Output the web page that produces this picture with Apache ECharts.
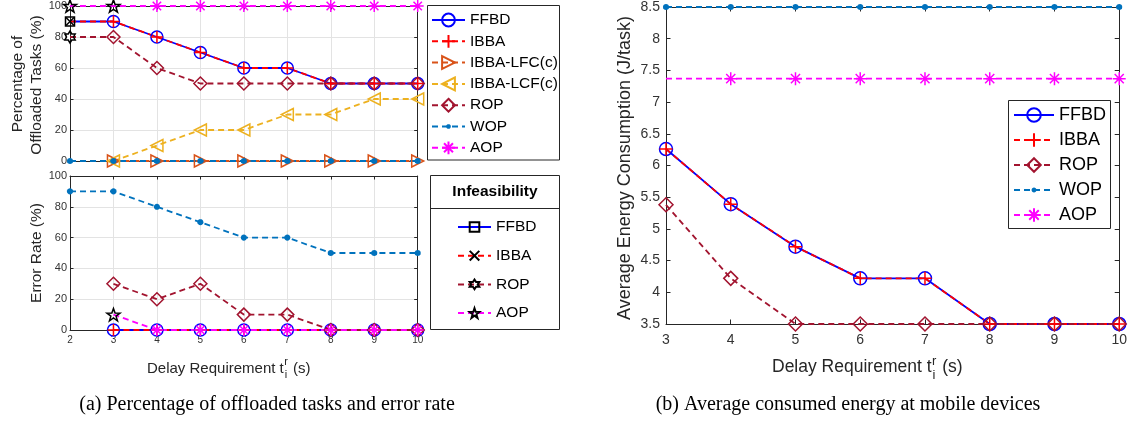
<!DOCTYPE html>
<html><head><meta charset="utf-8">
<script src="https://cdn.jsdelivr.net/npm/echarts@6/dist/echarts.min.js"></script>
<style>html,body{margin:0;padding:0;background:#fff}#c{width:1130px;height:427px}</style>
</head><body><div id="c"></div>
<script>
// ---------- data ----------
const xLeft = [2, 3, 4, 5, 6, 7, 8, 9, 10];
const xRight = [3, 4, 5, 6, 7, 8, 9, 10];
const pctTicks = [0, 100, 20];        // min, max, interval
const energyTicks = [3.5, 8.5, 0.5];  // min, max, interval

// (a) top: percentage of offloaded tasks (%)
const offFFBD = [90, 90, 80, 70, 60, 60, 50, 50, 50];
const offIBBA = [90, 90, 80, 70, 60, 60, 50, 50, 50];
const offLFC  = [null, 0, 0, 0, 0, 0, 0, 0, 0];
const offLCF  = [null, 0, 10, 20, 20, 30, 30, 40, 40];
const offROP  = [80, 80, 60, 50, 50, 50, 50, 50, 50];
const offWOP  = [0, 0, 0, 0, 0, 0, 0, 0, 0];
const offAOP  = [100, 100, 100, 100, 100, 100, 100, 100, 100];

// (a) bottom: error rate (%)
const errFFBD = [null, 0, 0, 0, 0, 0, 0, 0, 0];
const errIBBA = [null, 0, 0, 0, 0, 0, 0, 0, 0];
const errROP  = [null, 30, 20, 30, 10, 10, 0, 0, 0];
const errWOP  = [90, 90, 80, 70, 60, 60, 50, 50, 50];
const errAOP  = [null, 10, 0, 0, 0, 0, 0, 0, 0];

// infeasible delay requirements
const infFFBD = [2];
const infIBBA = [2];
const infROP  = [2];
const infAOP  = [2, 3];

// (b) average energy consumption (J/task)
const enFFBD = [6.26, 5.39, 4.72, 4.22, 4.22, 3.5, 3.5, 3.5];
const enIBBA = [6.26, 5.39, 4.72, 4.22, 4.22, 3.5, 3.5, 3.5];
const enROP  = [5.38, 4.22, 3.5, 3.5, 3.5, 3.5, 3.5, 3.5];
const enWOP  = [8.5, 8.5, 8.5, 8.5, 8.5, 8.5, 8.5, 8.5];
const enAOP  = [7.37, 7.37, 7.37, 7.37, 7.37, 7.37, 7.37, 7.37];

const namesTop = ['FFBD', 'IBBA', 'IBBA-LFC(c)', 'IBBA-LCF(c)', 'ROP', 'WOP', 'AOP'];
const namesInf = ['FFBD', 'IBBA', 'ROP', 'AOP'];
const namesRight = ['FFBD', 'IBBA', 'ROP', 'WOP', 'AOP'];

// ---------- styles ----------
const FONT = '"Liberation Sans", Arial, Helvetica, sans-serif';
const SERIF = '"Liberation Serif", "Times New Roman", serif';
const AX = '#262626';
const COL = {FFBD:'#0000FF', IBBA:'#FF0000', LFC:'#D95319', LCF:'#EDB120', ROP:'#A2142F', WOP:'#0072BD', AOP:'#FF00FF'};

function starPath(n, r1, r2) {
  let s = 'path://';
  for (let k = 0; k < 2 * n; k++) {
    const r = k % 2 === 0 ? r1 : r2;
    const a = -Math.PI / 2 + k * Math.PI / n;
    s += (k === 0 ? 'M' : 'L') + (r * Math.cos(a)).toFixed(3) + ',' + (r * Math.sin(a)).toFixed(3);
  }
  return s + 'Z';
}
function dotPath(r) {
  // small filled dot inside a 2x2 frame (so the legend dot stays small)
  let s = 'path://M-1,-1M1,1';
  for (let k = 0; k < 16; k++) {
    const a = k * Math.PI / 8;
    s += (k === 0 ? 'M' : 'L') + (r * Math.cos(a)).toFixed(3) + ',' + (r * Math.sin(a)).toFixed(3);
  }
  return s + 'Z';
}
const SYM = {
  plus: 'path://M0,-1L0,1M-1,0L1,0',
  cross: 'path://M-1,-1L1,1M-1,1L1,-1',
  triR: 'path://M-1,-1L1,0L-1,1Z',
  triL: 'path://M1,-1L-1,0L1,1Z',
  aster: 'path://M0,-1L0,1M-1,0L1,0M-0.7,-0.7L0.7,0.7M-0.7,0.7L0.7,-0.7',
  hexa: starPath(6, 1, 0.58),
  penta: starPath(5, 1, 0.4),
  dot: dotPath(0.36)
};

function pairs(xs, ys, infX) {
  const out = [];
  xs.forEach((x, i) => {
    const y = ys[i];
    if (y == null) return;
    if (infX && infX.includes(x)) out.push({value: [x, y], symbol: 'none'});
    else out.push([x, y]);
  });
  return out;
}
function infPairs(xs, ys, infX) {
  const out = [];
  xs.forEach((x, i) => { if (infX.includes(x) && ys[i] != null) out.push([x, ys[i]]); });
  return out;
}
function ser(name, g, data, color, dashed, symbol, size, markColor, filled) {
  return {
    type: 'line', name, xAxisIndex: g * 2, yAxisIndex: g * 2, data,
    symbol, symbolSize: size, symbolKeepAspect: true, showAllSymbol: true,
    lineStyle: {color, width: 1.8, type: dashed ? [6, 4] : 'solid'},
    itemStyle: filled ? {color: color, borderWidth: 0}
                      : {color: 'rgba(0,0,0,0)', borderColor: markColor || color, borderWidth: 1.5},
    clip: false, animation: false, silent: true, emphasis: {disabled: true}
  };
}

const series = [];
// top panel (grid 0)
series.push(ser('FFBD', 0, pairs(xLeft, offFFBD, infFFBD), COL.FFBD, false, 'circle', 12));
series.push(ser('IBBA', 0, pairs(xLeft, offIBBA, infIBBA), COL.IBBA, true, SYM.plus, 12));
series.push(ser('IBBA-LFC(c)', 0, pairs(xLeft, offLFC), COL.LFC, true, SYM.triR, 12));
series.push(ser('IBBA-LCF(c)', 0, pairs(xLeft, offLCF), COL.LCF, true, SYM.triL, 12));
series.push(ser('ROP', 0, pairs(xLeft, offROP, infROP), COL.ROP, true, 'diamond', 13));
series.push(ser('WOP', 0, pairs(xLeft, offWOP), COL.WOP, true, SYM.dot, 17, null, true));
series.push(ser('AOP', 0, pairs(xLeft, offAOP, infAOP), COL.AOP, true, SYM.aster, 12));
// bottom panel (grid 1)
series.push(ser('FFBD', 1, pairs(xLeft, errFFBD, infFFBD), COL.FFBD, false, 'circle', 12));
series.push(ser('IBBA', 1, pairs(xLeft, errIBBA, infIBBA), COL.IBBA, true, SYM.plus, 12));
series.push(ser('ROP', 1, pairs(xLeft, errROP, infROP), COL.ROP, true, 'diamond', 13));
series.push(ser('WOP', 1, pairs(xLeft, errWOP), COL.WOP, true, SYM.dot, 17, null, true));
series.push(ser('AOP', 1, pairs(xLeft, errAOP, infAOP), COL.AOP, true, SYM.aster, 12));
// infeasibility markers (both left panels)
[[0, offFFBD, offIBBA, offROP, offAOP], [1, errFFBD, errIBBA, errROP, errAOP]].forEach(([g, f, ib, r, a]) => {
  series.push(ser('FFBD ', g, infPairs(xLeft, f, infFFBD), COL.FFBD, false, 'rect', 9, '#000'));
  series.push(ser('IBBA ', g, infPairs(xLeft, ib, infIBBA), COL.IBBA, true, SYM.cross, 8, '#000'));
  series.push(ser('ROP ', g, infPairs(xLeft, r, infROP), COL.ROP, true, SYM.hexa, 12, '#000'));
  series.push(ser('AOP ', g, infPairs(xLeft, a, infAOP), COL.AOP, true, SYM.penta, 13, '#000'));
});
// right panel (grid 2)
series.push(ser('FFBD', 2, pairs(xRight, enFFBD), COL.FFBD, false, 'circle', 13));
series.push(ser('IBBA', 2, pairs(xRight, enIBBA), COL.IBBA, true, SYM.plus, 13));
series.push(ser('ROP', 2, pairs(xRight, enROP), COL.ROP, true, 'diamond', 14));
series.push(ser('WOP', 2, pairs(xRight, enWOP), COL.WOP, true, SYM.dot, 17, null, true));
series.push(ser('AOP', 2, pairs(xRight, enAOP, infAOP), COL.AOP, true, SYM.aster, 13));

// ---------- axes ----------
const grids = [
  {left: 70, top: 6, width: 347.7, height: 155},
  {left: 70, top: 176, width: 347.7, height: 154},
  {left: 666, top: 4, width: 455, height: 320}
];
function xAx(g, pos, min, max, showLabel, split, fs, margin, tl) {
  return {
    type: 'value', gridIndex: g, position: pos, min, max, interval: 1,
    axisLine: {show: true, onZero: false, lineStyle: {color: AX, width: 1}},
    axisTick: {show: true, inside: true, length: tl, lineStyle: {color: AX}},
    axisLabel: {show: showLabel, color: '#333', fontSize: fs, fontFamily: FONT, margin},
    splitLine: {show: split, lineStyle: {color: '#e3e3e3', width: 1}}
  };
}
function yAx(g, pos, mm, showLabel, split, fs, margin, tl) {
  return {
    type: 'value', gridIndex: g, position: pos, min: mm[0], max: mm[1], interval: mm[2],
    axisLine: {show: true, onZero: false, lineStyle: {color: AX, width: 1}},
    axisTick: {show: true, inside: true, length: tl, lineStyle: {color: AX}},
    axisLabel: {show: showLabel, color: '#333', fontSize: fs, fontFamily: FONT, margin},
    splitLine: {show: split, lineStyle: {color: '#e3e3e3', width: 1}}
  };
}
const xAxis = [
  xAx(0, 'bottom', xLeft[0], xLeft[xLeft.length - 1], false, true, 10, 5, 3.5),
  xAx(0, 'top', xLeft[0], xLeft[xLeft.length - 1], false, false, 10, 5, 3.5),
  xAx(1, 'bottom', xLeft[0], xLeft[xLeft.length - 1], true, true, 10, 5, 3.5),
  xAx(1, 'top', xLeft[0], xLeft[xLeft.length - 1], false, false, 10, 5, 3.5),
  xAx(2, 'bottom', xRight[0], xRight[xRight.length - 1], true, false, 14, 9, 4.5),
  xAx(2, 'top', xRight[0], xRight[xRight.length - 1], false, false, 14, 9, 4.5)
];
const yAxis = [
  yAx(0, 'left', pctTicks, true, true, 11, 3, 3.5),
  yAx(0, 'right', pctTicks, false, false, 11, 3, 3.5),
  yAx(1, 'left', pctTicks, true, true, 11, 3, 3.5),
  yAx(1, 'right', pctTicks, false, false, 11, 3, 3.5),
  yAx(2, 'left', energyTicks, true, false, 14, 6, 4.5),
  yAx(2, 'right', energyTicks, false, false, 14, 6, 4.5)
];

// ---------- legends ----------
const legend = [
  {orient: 'vertical', left: 431, top: 12, itemWidth: 33, itemHeight: 16, itemGap: 5.3, padding: 0,
   selectedMode: false, data: namesTop,
   textStyle: {fontSize: 15.5, fontFamily: FONT, color: '#000', lineHeight: 16}},
  {orient: 'vertical', left: 457, top: 219, itemWidth: 33, itemHeight: 12, itemGap: 12.7, padding: 0,
   selectedMode: false, data: namesInf.map(n => n + ' '), formatter: n => n.trim(),
   textStyle: {fontSize: 15.5, fontFamily: FONT, color: '#000', lineHeight: 16}},
  {orient: 'vertical', left: 1013, top: 106, itemWidth: 40, itemHeight: 17, itemGap: 7, padding: 0,
   selectedMode: false, data: namesRight,
   textStyle: {fontSize: 18, fontFamily: FONT, color: '#000', lineHeight: 18}}
];

// ---------- texts ----------
const mctx = document.createElement('canvas').getContext('2d');
function tw(text, size) { mctx.font = size + 'px ' + FONT; return mctx.measureText(text).width; }
function txt(text, x, y, size, opts) {
  return Object.assign({type: 'text', x, y, silent: true,
    style: Object.assign({text, fontSize: size, fontFamily: FONT, fill: AX, align: 'left', verticalAlign: 'middle'}, opts || {})});
}
function delayLabel(left, midY, size, subSize, supY, subY) {
  const a = 'Delay Requirement t';
  const wa = tw(a, size);
  const wr = tw('r', subSize), wi = tw('i', subSize);
  return [
    txt(a, left, midY, size),
    txt('r', left + wa + 0.5, supY, subSize),
    txt('i', left + wa + 1, subY, subSize),
    txt(' (s)', left + wa + Math.max(wr, wi) + 1.5, midY, size)
  ];
}
const graphic = [
  {type: 'rect', z: 0, shape: {x: 427.5, y: 5.5, width: 132, height: 154.5}, style: {fill: '#fff', stroke: AX, lineWidth: 1}, silent: true},
  {type: 'rect', z: 0, shape: {x: 430.5, y: 175.5, width: 129, height: 154}, style: {fill: '#fff', stroke: AX, lineWidth: 1}, silent: true},
  {type: 'line', z: 0, shape: {x1: 430.5, y1: 208.5, x2: 559.5, y2: 208.5}, style: {stroke: AX, lineWidth: 1}, silent: true},
  {type: 'rect', z: 0, shape: {x: 1008.5, y: 100.5, width: 102, height: 128}, style: {fill: '#fff', stroke: AX, lineWidth: 1}, silent: true},
  txt('Infeasibility', 495, 192, 15.5, {align: 'center', fontWeight: 'bold', fill: '#000'}),
  Object.assign(txt('Percentage of', 18, 84, 15.5, {align: 'center'}), {rotation: Math.PI / 2}),
  Object.assign(txt('Offloaded Tasks (%)', 37, 85, 15.5, {align: 'center'}), {rotation: Math.PI / 2}),
  Object.assign(txt('Error Rate (%)', 37, 253, 15.5, {align: 'center'}), {rotation: Math.PI / 2}),
  Object.assign(txt('Average Energy Consumption (J/task)', 625, 168, 18, {align: 'center'}), {rotation: Math.PI / 2}),
  ...delayLabel(147, 369, 15, 11, 362, 375),
  ...delayLabel(772, 367, 17.5, 13, 361, 375),
  txt('(a) Percentage of offloaded tasks and error rate', 267, 405, 20, {align: 'center', fontFamily: SERIF, fill: '#000'}),
  txt('(b) Average consumed energy at mobile devices', 848, 405, 20, {align: 'center', fontFamily: SERIF, fill: '#000'})
];

const chart = echarts.init(document.getElementById('c'), null, {renderer: 'canvas'});
chart.setOption({
  animation: false,
  backgroundColor: '#fff',
  grid: grids,
  xAxis, yAxis, legend, series, graphic
});
</script>
</body></html>
